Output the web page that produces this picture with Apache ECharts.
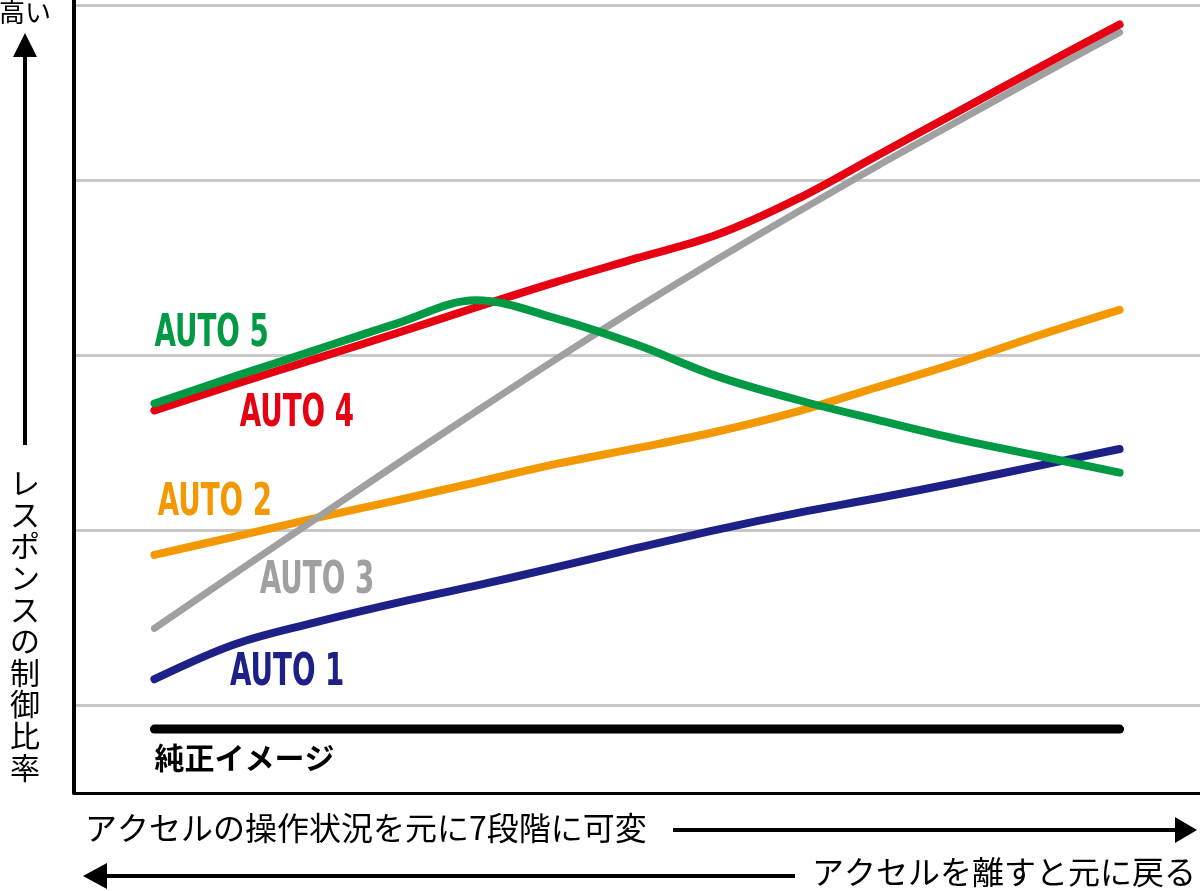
<!DOCTYPE html>
<html>
<head>
<meta charset="utf-8">
<title>レスポンスの制御比率</title>
<script src="https://cdn.jsdelivr.net/npm/echarts@6.0.0/dist/echarts.min.js"></script>
<style>
  html, body { margin: 0; padding: 0; background: #fff; }
  #main { width: 1200px; height: 891px; }
</style>
</head>
<body>
<div id="main"></div>
<script>
// アクセル操作の段階 (x軸)
var steps = [1, 2, 3, 4, 5, 6, 7, 8, 9, 10, 11, 12, 13];

// 各モードの制御比率
var pureData  = [0.73, 0.73, 0.73, 0.73, 0.73, 0.73, 0.73, 0.73, 0.73, 0.73, 0.73, 0.73, 0.73];
var auto1Data = [1.30, 1.70, 1.95, 2.17, 2.37, 2.58, 2.80, 3.01, 3.20, 3.37, 3.55, 3.74, 3.93];
var auto2Data = [2.72, 2.93, 3.14, 3.34, 3.55, 3.76, 3.94, 4.13, 4.36, 4.64, 4.92, 5.23, 5.52];
var auto3Data = [1.88, 2.51, 3.13, 3.75, 4.36, 4.96, 5.54, 6.10, 6.64, 7.17, 7.68, 8.19, 8.69];
var auto4Data = [4.37, 4.67, 4.96, 5.25, 5.55, 5.84, 6.11, 6.38, 6.79, 7.29, 7.79, 8.29, 8.78];
var auto5Data = [4.45, 4.76, 5.06, 5.36, 5.63, 5.42, 5.12, 4.76, 4.49, 4.26, 4.04, 3.85, 3.66];

var seriesNames = ['純正イメージ', 'AUTO 1', 'AUTO 2', 'AUTO 3', 'AUTO 4', 'AUTO 5'];
var seriesColors = ['#000000', '#1d2087', '#f39800', '#a0a0a0', '#e60012', '#009a44'];

// 名前ラベルの位置 (データ座標: 左端 x, 中心 y)
var labelCoords = [[1.0, 0.40], [1.94, 1.37], [1.04, 3.31], [2.31, 2.41], [2.06, 4.32], [1.0, 5.24]];

var autoFont = '"DejaVu Sans Condensed", "DejaVu Sans", sans-serif';
var jpFont = '"Noto Sans CJK JP", sans-serif';

function pairs(arr) {
  return steps.map(function (x, i) { return [x, arr[i]]; });
}

function lineSeries(idx, arr, width) {
  return {
    name: seriesNames[idx],
    type: 'line',
    data: pairs(arr),
    smooth: idx === 0 ? false : 0.35,
    symbol: 'none',
    silent: true,
    lineStyle: { color: seriesColors[idx], width: width, cap: 'round', join: 'round' }
  };
}

var chart = echarts.init(document.getElementById('main'));

var verticalTitle = 'レスポンスの制御比率'.split('').join('\n');

var option = {
  backgroundColor: '#fff',
  animation: false,
  grid: { left: 74, right: 0, top: 0, bottom: 98 },
  xAxis: {
    type: 'value',
    min: 0,
    max: 14,
    axisLine: { show: true, lineStyle: { color: '#000', width: 3 } },
    axisTick: { show: false },
    axisLabel: { show: false },
    splitLine: { show: false }
  },
  yAxis: {
    type: 'value',
    min: 0,
    max: 9.06,
    interval: 1,
    axisLine: { show: true, lineStyle: { color: '#000', width: 4 } },
    axisTick: { show: false },
    axisLabel: { show: false },
    splitLine: {
      show: true,
      // 奇数目盛りだけ灰色の線
      lineStyle: { color: ['rgba(0,0,0,0)', '#c8c8c8'], width: 3 }
    }
  },
  series: [
    lineSeries(0, pureData, 9),
    lineSeries(1, auto1Data, 8),
    lineSeries(2, auto2Data, 8),
    lineSeries(3, auto3Data, 7),
    lineSeries(4, auto4Data, 8),
    lineSeries(5, auto5Data, 8)
  ]
};

chart.setOption(option);

var graphics = [
  // 縦軸の見出し
  { type: 'text', silent: true,
    style: { text: '高い', x: 25, y: 12, textAlign: 'center', textVerticalAlign: 'middle',
             font: '26px ' + jpFont, fill: '#000' } },
  { type: 'polygon', silent: true, shape: { points: [[25, 33], [13, 57], [37, 57]] }, style: { fill: '#000' } },
  { type: 'line', silent: true, shape: { x1: 25, y1: 55, x2: 25, y2: 445 }, style: { stroke: '#000', lineWidth: 4 } },
  { type: 'text', silent: true,
    style: { text: verticalTitle, x: 25, y: 467, textAlign: 'center', textVerticalAlign: 'top',
             font: '30px ' + jpFont, lineHeight: 31.6, fill: '#000' } },
  // 横軸の説明 (右向き)
  { type: 'text', silent: true,
    style: { text: 'アクセルの操作状況を元に7段階に可変', x: 85, y: 828, textAlign: 'left', textVerticalAlign: 'middle',
             font: '32px ' + jpFont, fill: '#000' } },
  { type: 'line', silent: true, shape: { x1: 673, y1: 830, x2: 1178, y2: 830 }, style: { stroke: '#000', lineWidth: 4 } },
  { type: 'polygon', silent: true, shape: { points: [[1197, 830], [1175, 817], [1175, 843]] }, style: { fill: '#000' } },
  // 横軸の説明 (左向き)
  { type: 'line', silent: true, shape: { x1: 104, y1: 876, x2: 795, y2: 876 }, style: { stroke: '#000', lineWidth: 4 } },
  { type: 'polygon', silent: true, shape: { points: [[83, 876], [107, 863], [107, 889]] }, style: { fill: '#000' } },
  { type: 'text', silent: true,
    style: { text: 'アクセルを離すと元に戻る', x: 812, y: 872, textAlign: 'left', textVerticalAlign: 'middle',
             font: '32px ' + jpFont, fill: '#000' } }
];

// 線の名前ラベル: データ座標をピクセルに変換して置く (AUTO は縦長の書体に見せるため横に縮める)
labelCoords.forEach(function (c, i) {
  var p = chart.convertToPixel({ gridIndex: 0 }, c);
  var isPure = i === 0;
  graphics.push({
    type: 'text',
    silent: true,
    x: p[0],
    y: p[1],
    scaleX: isPure ? 1 : 0.7,
    style: {
      text: seriesNames[i],
      x: 0,
      y: 0,
      textAlign: 'left',
      textVerticalAlign: 'middle',
      font: isPure ? 'bold 30px ' + jpFont : 'bold 44px ' + autoFont,
      fill: seriesColors[i]
    }
  });
});

chart.setOption({ graphic: graphics });
</script>
</body>
</html>
